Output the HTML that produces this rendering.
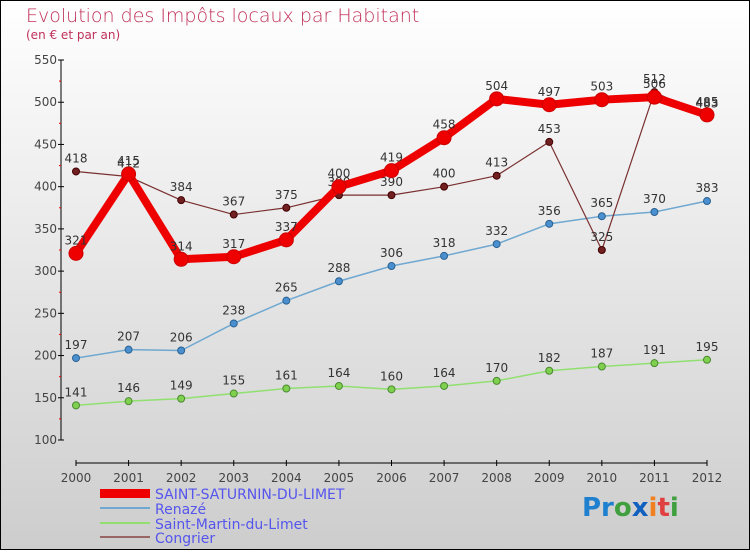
<!DOCTYPE html>
<html><head><meta charset="utf-8"><style>
body{margin:0}
#c{width:750px;height:550px;position:relative;font-family:"DejaVu Sans","Liberation Sans",sans-serif}
</style></head><body>
<div id="c">
<svg id="s" width="750" height="550" xmlns="http://www.w3.org/2000/svg">
<defs><linearGradient id="bg" x1="0" y1="0" x2="0" y2="1"><stop offset="0" stop-color="#ffffff"/><stop offset="1" stop-color="#cdcdcd"/></linearGradient></defs>
<rect x="0.5" y="0.5" width="749" height="549" fill="url(#bg)" stroke="#000"/>
<text x="26" y="22" font-size="19" fill="#c0305a" font-weight="200">Evolution des Impôts locaux par Habitant</text>
<text x="26" y="39" font-size="12" fill="#c0305a">(en € et par an)</text>
<g id="axes"></g><g id="series"></g>
<g>
<rect x="100" y="489" width="50" height="9" fill="#ee0000"/>
<text x="155" y="499" font-size="14" fill="#5555ee">SAINT-SATURNIN-DU-LIMET</text>
<rect x="100" y="507" width="50" height="2" fill="#6fa8d0"/>
<text x="155" y="514" font-size="14" fill="#5555ee">Renazé</text>
<rect x="100" y="522" width="50" height="2" fill="#90e070"/>
<text x="155" y="529" font-size="14" fill="#5555ee">Saint-Martin-du-Limet</text>
<rect x="100" y="536" width="50" height="2" fill="#996666"/>
<text x="155" y="543" font-size="14" fill="#5555ee">Congrier</text>
</g>
<text x="582" y="516" font-size="26" font-weight="bold"><tspan fill="#2080d0">Pr</tspan><tspan fill="#40a040">o</tspan><tspan fill="#1060c0">x</tspan><tspan fill="#f08020">i</tspan><tspan fill="#e04040">t</tspan><tspan fill="#40a040">i</tspan></text>
</svg></div>
<script>
const years=["2000","2001","2002","2003","2004","2005","2006","2007","2008","2009","2010","2011","2012"];
const yTicks=[100,150,200,250,300,350,400,450,500,550];
const ssdl=[321,415,314,317,337,400,419,458,504,497,503,506,485];
const renaze=[197,207,206,238,265,288,306,318,332,356,365,370,383];
const stMartin=[141,146,149,155,161,164,160,164,170,182,187,191,195];
const congrier=[418,412,384,367,375,390,390,400,413,453,325,512,483];
const NS="http://www.w3.org/2000/svg";
const xS=i=>76+i*(707-76)/12;
const yS=v=>440-(v-100)*(380/450);
function mk(t,a,p){const e=document.createElementNS(NS,t);for(const k in a)e.setAttribute(k,a[k]);p.appendChild(e);return e;}
const ax=document.getElementById('axes');
let e=mk('line',{x1:61,y1:60,x2:61,y2:440,stroke:'#000'},ax);


e=mk('line',{x1:76,y1:463,x2:707,y2:463,stroke:'#000'},ax);


yTicks.forEach((v,i)=>{const y=yS(v);
 mk('line',{x1:58,y1:y,x2:64,y2:y,stroke:'#000'},ax);
 if(i<yTicks.length-1)mk('line',{x1:59,y1:yS(v+25),x2:61,y2:yS(v+25),stroke:'#e00'},ax);
 const t=mk('text',{x:57,y:y+4,'font-size':12,fill:'#444','text-anchor':'end'},ax);t.textContent=v;
 
 });
years.forEach((yr,i)=>{const x=xS(i);
 mk('line',{x1:x,y1:460,x2:x,y2:466,stroke:'#000'},ax);
 const t=mk('text',{x:x,y:482,'font-size':12,fill:'#444','text-anchor':'middle'},ax);t.textContent=yr;
 
 });
const sg=document.getElementById('series');
function draw(vals,name,color,w,r,dot,dotStroke){
 const g=mk('g',{},sg);
 
 
 const p=mk('polyline',{points:vals.map((v,i)=>xS(i)+','+yS(v)).join(' '),fill:'none',stroke:color,'stroke-width':w,'stroke-linejoin':'round'},g);
 
 
 vals.forEach((v,i)=>{const c=mk('circle',{cx:xS(i),cy:yS(v),r:r,fill:dot,stroke:dotStroke,'stroke-width':1},g);
  
  
  const t=mk('text',{x:xS(i),y:yS(v)-9,'font-size':12,fill:'#333','text-anchor':'middle'},g);t.textContent=v;
  
  });
}
draw(stMartin,'saint-martin','#90e070',1.5,3.5,'#80d050','#4a8a30');
draw(renaze,'renaze','#6fa8d0',1.5,3.5,'#4a90d0','#2a6090');
draw(congrier,'congrier','#7a3030',1.2,3.5,'#702020','#400');
draw(ssdl,'saint-saturnin','#ee0000',8,7,'#ee0000','#cc0000');
</script>
</body></html>
